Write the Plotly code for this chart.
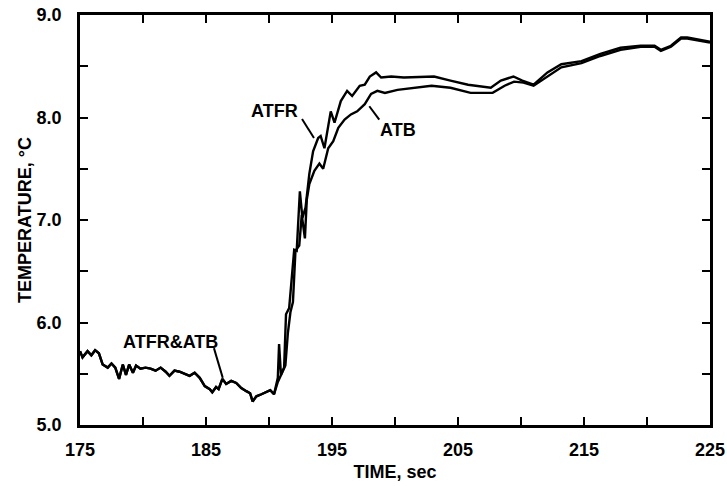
import plotly.graph_objects as go

# Shared record before the step (ATFR & ATB coincide)
t_common = [175.0, 175.2, 175.6, 175.9, 176.2, 176.5, 176.8, 177.2, 177.5, 177.8,
            178.1, 178.4, 178.65, 178.9, 179.2, 179.45, 179.8, 180.2, 180.6, 181.0,
            181.4, 181.8, 182.1, 182.5, 182.9, 183.3, 183.7, 184.1, 184.5, 184.9,
            185.3, 185.5, 185.8, 186.0, 186.3, 186.6, 187.0, 187.4, 187.8, 188.2,
            188.5, 188.7, 189.0, 189.4, 189.8, 190.1, 190.4]
T_common = [5.72, 5.66, 5.72, 5.68, 5.73, 5.70, 5.59, 5.56, 5.60, 5.56,
            5.45, 5.59, 5.49, 5.59, 5.51, 5.58, 5.55, 5.56, 5.55, 5.53,
            5.56, 5.52, 5.48, 5.53, 5.52, 5.50, 5.48, 5.51, 5.46, 5.38,
            5.35, 5.32, 5.37, 5.35, 5.45, 5.40, 5.43, 5.41, 5.36, 5.33,
            5.31, 5.23, 5.28, 5.30, 5.32, 5.34, 5.30]

# ATFR after the step
t_atfr = [190.7, 190.8, 190.95, 191.2, 191.35, 191.6, 191.8, 192.0, 192.2, 192.45,
          192.65, 192.9, 193.2, 193.5, 193.9, 194.1, 194.4, 194.9, 195.2, 195.7,
          196.2, 196.6, 197.2, 197.6, 198.0, 198.5, 198.9, 199.7, 200.7, 203.1,
          204.4, 205.8, 207.6, 208.4, 209.4, 210.1, 211.0, 212.1, 213.2, 214.8,
          216.3, 217.9, 219.5, 220.6, 221.1, 221.9, 222.7, 223.2, 225.0]
T_atfr = [5.46, 5.79, 5.49, 5.56, 6.08, 6.14, 6.44, 6.71, 6.70, 7.28,
          7.02, 7.12, 7.45, 7.67, 7.80, 7.82, 7.70, 8.06, 7.95, 8.16,
          8.26, 8.21, 8.31, 8.32, 8.40, 8.44, 8.39, 8.40, 8.39, 8.40,
          8.36, 8.32, 8.29, 8.36, 8.40, 8.36, 8.32, 8.44, 8.52, 8.55,
          8.62, 8.68, 8.70, 8.70, 8.66, 8.70, 8.78, 8.78, 8.74]

# ATB after the step
t_atb = [190.7, 191.0, 191.3, 191.5, 191.7, 191.9, 192.1, 192.4, 192.6, 192.85,
         193.0, 193.2, 193.6, 194.0, 194.3, 194.7, 195.1, 195.5, 196.0, 196.5,
         197.0, 197.6, 198.1, 198.6, 199.2, 200.2, 202.9, 204.4, 206.0, 207.75,
         208.7, 209.45, 210.2, 211.0, 212.1, 213.2, 214.8, 216.3, 217.9, 219.5,
         220.6, 221.1, 221.9, 222.7, 223.2, 225.0]
T_atb = [5.42, 5.50, 5.58, 5.90, 6.10, 6.20, 6.70, 6.75, 7.05, 6.82,
         7.20, 7.35, 7.48, 7.55, 7.50, 7.70, 7.77, 7.90, 7.98, 8.03,
         8.06, 8.13, 8.23, 8.26, 8.24, 8.27, 8.31, 8.29, 8.24, 8.24,
         8.31, 8.35, 8.34, 8.31, 8.40, 8.49, 8.53, 8.60, 8.66, 8.69,
         8.69, 8.65, 8.69, 8.77, 8.77, 8.73]

x_ticks = [175, 180, 185, 190, 195, 200, 205, 210, 215, 220, 225]
x_ticktext = ["175", "", "185", "", "195", "", "205", "", "215", "", "225"]
y_ticks = [5.0, 5.5, 6.0, 6.5, 7.0, 7.5, 8.0, 8.5, 9.0]
y_ticktext = ["5.0", "", "6.0", "", "7.0", "", "8.0", "", "9.0"]

FONT = "Liberation Sans, Arial, sans-serif"
line_style = dict(color="black", width=2.4)

fig = go.Figure()
fig.add_trace(go.Scatter(x=t_common + t_atfr, y=T_common + T_atfr, mode="lines",
                         line=line_style, name="ATFR", cliponaxis=True))
fig.add_trace(go.Scatter(x=t_common + t_atb, y=T_common + T_atb, mode="lines",
                         line=line_style, name="ATB", cliponaxis=True))

axis_common = dict(showgrid=False, zeroline=False, showline=True, linecolor="#000000",
                   linewidth=2.5, mirror="ticks", ticks="inside", ticklen=8,
                   tickwidth=2, tickcolor="#000000", automargin=False, layer="above traces",
                   tickfont=dict(family=FONT, size=18, color="black", weight="bold"))

fig.update_xaxes(range=[175, 225], tickvals=x_ticks, ticktext=x_ticktext,
                 ticklabelstandoff=7,
                 title=dict(text="TIME, sec", standoff=7,
                            font=dict(family=FONT, size=18, color="black", weight="bold")),
                 **axis_common)
fig.update_yaxes(range=[5.0, 9.0], tickvals=y_ticks, ticktext=y_ticktext,
                 ticklabelstandoff=12,
                 title=dict(text="TEMPERATURE, °C", standoff=1,
                            font=dict(family=FONT, size=18, color="black", weight="bold")),
                 **axis_common)

lab_font = dict(family=FONT, size=18, color="black", weight="bold")
fig.add_annotation(x=182.2, y=5.81, text="ATFR&ATB", showarrow=False, font=lab_font)
fig.add_annotation(x=190.4, y=8.06, text="ATFR", showarrow=False, font=lab_font)
fig.add_annotation(x=200.2, y=7.88, text="ATB", showarrow=False, font=lab_font)

ptr = dict(color="black", width=2)
fig.add_shape(type="line", x0=185.63, y0=5.75, x1=186.33, y1=5.46, line=ptr)
fig.add_shape(type="line", x0=192.62, y0=7.985, x1=193.57, y1=7.80, line=ptr)
fig.add_shape(type="line", x0=197.96, y0=8.11, x1=198.75, y1=7.98, line=ptr)

fig.update_layout(width=727, height=486, showlegend=False,
                  paper_bgcolor="white", plot_bgcolor="white",
                  margin=dict(l=80, r=17, t=15, b=61))

fig.write_html("out.html", config={"displayModeBar": False},
               post_script="document.body.style.margin='0';document.body.style.overflow='hidden';")
